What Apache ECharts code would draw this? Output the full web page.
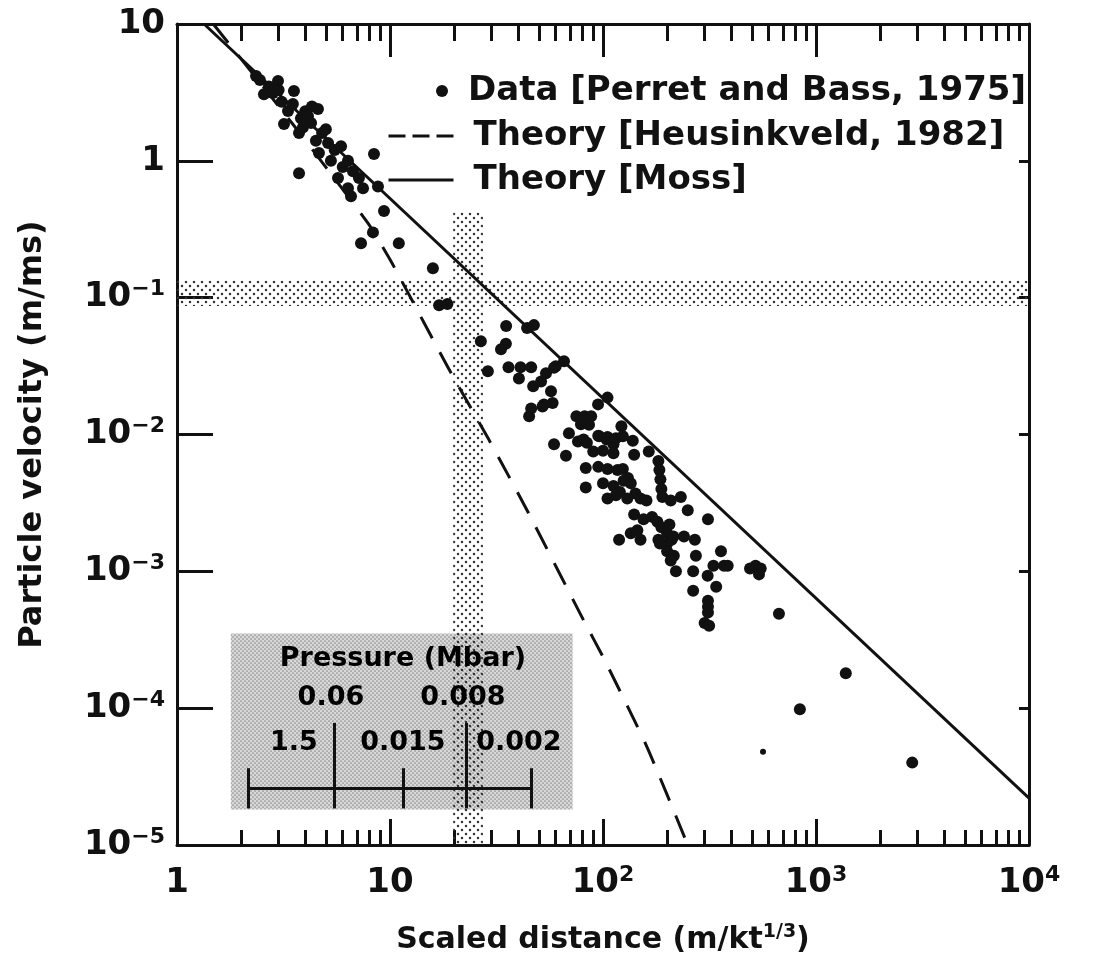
<!DOCTYPE html>
<html><head><meta charset="utf-8">
<script src="https://cdn.jsdelivr.net/npm/echarts@6/dist/echarts.min.js"></script>
<style>html,body{margin:0;padding:0;background:#fff}#c{width:1102px;height:979px}</style>
</head><body><div id="c"></div>
<script>
const FONT = '"DejaVu Sans", "Liberation Sans", sans-serif';
const INK = '#111';

// ---- axes ----
const xTicks = [1, 10, 100, 1000, 10000];
const xTickLabels = ['1', '10', '10^2', '10^3', '10^4'];
const xMinorTicks = [2,3,4,5,6,7,8,9,20,30,40,50,60,70,80,90,200,300,400,500,600,700,800,900,2000,3000,4000,5000,6000,7000,8000,9000];
const yTicks = [1e-5, 1e-4, 1e-3, 1e-2, 1e-1, 1, 10];
const yTickLabels = ['10^\u22125', '10^\u22124', '10^\u22123', '10^\u22122', '10^\u22121', '1', '10'];

// ---- data [scaled distance, particle velocity] ----
const dataNear = [[2.35,4.17],[2.45,3.9],[2.56,3.07],[2.7,3.5],[2.82,3.13],[2.98,3.83],[3.0,3.3],[3.1,2.7],[3.18,1.86],[3.32,2.31],[3.5,2.6],[3.54,3.24],[3.74,1.60],[3.74,0.81],[3.82,2.05],[3.9,1.75],[4.0,2.3],[4.12,2.12],[4.26,1.89],[4.3,2.5],[4.49,1.40],[4.59,2.39],[4.64,1.14],[4.8,1.6],[5.0,1.7],[5.12,1.35],[5.28,1.0],[5.5,1.2],[5.70,0.75],[5.89,1.28],[6.0,0.9],[6.35,1.0],[6.35,0.63],[6.56,0.55],[6.70,0.84],[7.15,0.75],[7.47,0.63],[8.41,1.12],[8.78,0.65],[9.37,0.43],[7.31,0.25],[8.32,0.30],[11.0,0.25]];
const dataMid = [[15.9,0.164],[17.0,0.088],[18.6,0.090],[26.7,0.048],[28.8,0.029],[33.2,0.042],[35,0.046],[35.1,0.062],[36,0.031],[40.3,0.0257],[41,0.031],[44,0.060],[46,0.031],[47.4,0.063],[47,0.0225],[51.2,0.0244],[54,0.028],[57,0.0207],[60,0.0315],[58.9,0.0307],[65.6,0.0343],[45,0.0136],[46,0.0155],[52,0.016],[52.8,0.0166],[58,0.017],[58.9,0.0085],[67,0.0070],[69.2,0.0102]];
const dataFar = [[75,0.0136],[82,0.0136],[88,0.0136],[80,0.0125],[86,0.0118],[78.8,0.0119],[76.3,0.0089],[81,0.0092],[84,0.0087],[94.8,0.0166],[105,0.0186],[95,0.0098],[104,0.0092],[112,0.0085],[96,0.0097],[105,0.0096],[115,0.0094],[124,0.0097],[122,0.0115],[138,0.0090],[90,0.0075],[100,0.0076],[112,0.0073],[140,0.0071],[164,0.0075],[83,0.0057],[95,0.0058],[105,0.0056],[117,0.0055],[124,0.0056],[131,0.0048],[182,0.0064],[184,0.0055],[186,0.0047],[188,0.0040],[190,0.0035],[83,0.0041],[100,0.0044],[112,0.0042],[120,0.0038],[125,0.0046],[135,0.0044],[142,0.0037],[150,0.0034],[130,0.0034],[115,0.0036],[160,0.0033],[105,0.0034],[208,0.0033],[232,0.0035],[250,0.0028],[140,0.0026],[155,0.0024],[170,0.0025],[180,0.0023],[205,0.0022],[188,0.0021],[200,0.0019],[210,0.0017],[119,0.0017],[135,0.0019],[145,0.0020],[150,0.0017],[182,0.0017],[200,0.0016],[214,0.0018],[240,0.0018],[270,0.0017],[311,0.0024],[273,0.0013],[358,0.0014],[370,0.0011],[330,0.0011],[385,0.0011],[490,0.00105],[520,0.0011],[550,0.00105],[540,0.00095],[185,0.0016],[200,0.0014],[215,0.0013],[208,0.0012],[220,0.0010],[265,0.0010],[310,0.00093],[265,0.00072],[340,0.00077],[311,0.00061],[311,0.00055],[311,0.00050],[300,0.00042],[315,0.00040],[670,0.00049],[1380,0.00018],[840,0.000098],[2830,0.00004]];
const dataFaint = [[564,0.000048]];

const mossLine = [[1.34,10],[10000,2.2e-5]];
const heusinkveldLine = [[1.48,10],[3.5,1.85],[7.88,0.35],[10,0.19],[12.5,0.10],[18.7,0.031],[29.2,0.0091],[44.5,0.0027],[81,4.4e-4],[101,2.3e-4],[160,5.3e-5],[250,1e-5]];

// ---- shaded bands and inset ----
const velocityBand = [0.087, 0.133];
const distanceBand = [19.8, 27.3];
const distanceBandTop = 0.42;
const insetBox = [[1.79,1.82e-5],[72,3.52e-4]];
const insetTexts = [[11.5,2.27e-4,'Pressure (Mbar)'],[5.28,1.18e-4,'0.06'],[22,1.18e-4,'0.008'],[3.54,5.55e-5,'1.5'],[11.5,5.55e-5,'0.015'],[40.3,5.55e-5,'0.002']];
const scaleBarY = 2.6e-5;
const scaleBarX = [2.15, 45.9];
const scaleSeparators = [5.46, 22.7];
const scaleSeparatorY = [1.85e-5, 7.8e-5];
const scaleTicks = [2.15, 11.5, 45.9];
const scaleTickY = [1.85e-5, 3.64e-5];

function pattern(size, bg, color, r, pts) {
  const c = document.createElement('canvas'); c.width = size; c.height = size;
  const g = c.getContext('2d');
  if (bg) { g.fillStyle = bg; g.fillRect(0, 0, size, size); }
  g.fillStyle = color;
  pts.forEach(([x, y]) => { g.beginPath(); g.arc(x, y, r, 0, Math.PI * 2); g.fill(); });
  return { image: c, repeat: 'repeat' };
}
const bandFill = pattern(8, null, '#333', 1.25, [[2,2],[6,6]]);
const insetFill = pattern(4, '#d8d8d8', '#8c8c8c', 0.85, [[1,1],[3,3]]);

function richLabel(s) {
  const i = s.indexOf('^');
  return i < 0 ? '{b|' + s + '}' : '{b|' + s.slice(0, i) + '}{s|' + s.slice(i + 1) + '}';
}
function tickFormatter(ticks, labels) {
  return v => {
    const k = ticks.findIndex(t => Math.abs(Math.log10(t) - Math.log10(v)) < 1e-6);
    return k < 0 ? '' : richLabel(labels[k]);
  };
}
const tickRich = {
  b: { fontFamily: FONT, fontSize: 34, fontWeight: 'bold', color: INK, lineHeight: 38 },
  s: { fontFamily: FONT, fontSize: 22, fontWeight: 'bold', color: INK, lineHeight: 22, verticalAlign: 'top' }
};
const lineSt = { color: INK, width: 3 };
const xBase = { type: 'log', logBase: 10, min: 1, max: 10000, splitLine: { show: false }, minorTick: { show: false }, silent: true };
const yBase = { type: 'log', logBase: 10, min: 1e-5, max: 10, splitLine: { show: false }, minorTick: { show: false }, silent: true };

const scaleLines = [
  [{ coord: [scaleBarX[0], scaleBarY] }, { coord: [scaleBarX[1], scaleBarY] }],
  ...scaleSeparators.map(x => [{ coord: [x, scaleSeparatorY[0]] }, { coord: [x, scaleSeparatorY[1]] }]),
  ...scaleTicks.map(x => [{ coord: [x, scaleTickY[0]] }, { coord: [x, scaleTickY[1]] }])
];

const legendText = { fontFamily: FONT, fontSize: 34, fontWeight: 'bold', color: INK, padding: [0, 0, 0, 15] };
const noSymbol = { color: 'rgba(0,0,0,0)', borderWidth: 0, opacity: 0 };

const option = {
  animation: false,
  backgroundColor: '#fff',
  grid: { left: 177, right: 73, top: 24, bottom: 134, containLabel: false },
  legend: [
    { data: ['Data [Perret and Bass, 1975]'], left: 431, top: 69, orient: 'vertical', icon: 'circle', itemWidth: 12, itemHeight: 12, selectedMode: false,
      itemStyle: { color: INK, opacity: 1 }, textStyle: legendText },
    { data: ['Theory [Heusinkveld, 1982]'], left: 382, top: 114, orient: 'vertical', itemWidth: 65, itemHeight: 14, selectedMode: false,
      itemStyle: noSymbol, lineStyle: { type: [17, 7], width: 3, color: INK, opacity: 1 }, textStyle: legendText },
    { data: ['Theory [Moss]'], left: 382, top: 158, orient: 'vertical', itemWidth: 65, itemHeight: 14, selectedMode: false,
      itemStyle: noSymbol, lineStyle: { width: 3, color: INK, opacity: 1 }, textStyle: legendText }
  ],
  xAxis: [
    { ...xBase, position: 'bottom',
      axisLine: { show: true, onZero: false, lineStyle: lineSt },
      axisTick: { show: true, inside: true, length: 26, customValues: xTicks, lineStyle: lineSt },
      axisLabel: { show: true, customValues: xTicks, formatter: tickFormatter(xTicks, xTickLabels), rich: tickRich, margin: 19 },
      name: 'Scaled distance (m/kt{s|1/3})', nameLocation: 'middle', nameGap: 78,
      nameTextStyle: { fontFamily: FONT, fontSize: 30, fontWeight: 'bold', color: INK, lineHeight: 34,
        rich: { s: { fontFamily: FONT, fontSize: 19, fontWeight: 'bold', color: INK, lineHeight: 19, verticalAlign: 'top' } } } },
    { ...xBase, position: 'bottom', axisLine: { show: false, onZero: false },
      axisTick: { show: true, inside: true, length: 15, customValues: xMinorTicks, lineStyle: lineSt }, axisLabel: { show: false } },
    { ...xBase, position: 'top', axisLine: { show: true, onZero: false, lineStyle: lineSt },
      axisTick: { show: true, inside: true, length: 33, customValues: xTicks, lineStyle: lineSt }, axisLabel: { show: false } },
    { ...xBase, position: 'top', axisLine: { show: false, onZero: false },
      axisTick: { show: true, inside: true, length: 17, customValues: xMinorTicks, lineStyle: lineSt }, axisLabel: { show: false } }
  ],
  yAxis: [
    { ...yBase, position: 'left',
      axisLine: { show: true, onZero: false, lineStyle: lineSt },
      axisTick: { show: true, inside: true, length: 36, customValues: yTicks, lineStyle: lineSt },
      axisLabel: { show: true, customValues: yTicks, formatter: tickFormatter(yTicks, yTickLabels), rich: tickRich, margin: 12 },
      name: 'Particle velocity (m/ms)', nameLocation: 'middle', nameGap: 128,
      nameTextStyle: { fontFamily: FONT, fontSize: 32, fontWeight: 'bold', color: INK } },
    { ...yBase, position: 'right',
      axisLine: { show: true, onZero: false, lineStyle: lineSt },
      axisTick: { show: true, inside: true, length: 10, customValues: yTicks, lineStyle: lineSt },
      axisLabel: { show: false } }
  ],
  series: [
    { name: 'inset', type: 'line', data: [], z: 1, silent: true,
      markArea: { silent: true, itemStyle: { color: insetFill }, label: { show: false },
        data: [[{ coord: insetBox[0] }, { coord: insetBox[1] }]] } },
    { name: 'bands', type: 'line', data: [], z: 2, silent: true,
      markArea: { silent: true, itemStyle: { color: bandFill }, label: { show: false },
        data: [
          [{ coord: [xTicks[0], velocityBand[0]] }, { coord: [xTicks[xTicks.length - 1], velocityBand[1]] }],
          [{ coord: [distanceBand[0], yTicks[0]] }, { coord: [distanceBand[1], distanceBandTop] }]
        ] } },
    { name: 'insetText', type: 'scatter', z: 3, silent: true, symbolSize: 1,
      itemStyle: { color: 'rgba(0,0,0,0)', opacity: 1 },
      data: insetTexts,
      label: { show: true, position: 'inside', formatter: p => p.data[2], fontFamily: FONT, fontSize: 27, fontWeight: 'bold', color: '#000', opacity: 1 },
      markLine: { silent: true, symbol: ['none', 'none'], label: { show: false },
        lineStyle: { type: 'solid', color: INK, width: 3, opacity: 1 }, data: scaleLines } },
    { name: 'Theory [Heusinkveld, 1982]', type: 'line', z: 4, silent: true, symbol: 'none', showSymbol: false, smooth: 0.2,
      data: heusinkveldLine, lineStyle: { color: INK, width: 3, type: [24, 16] }, itemStyle: { color: INK } },
    { name: 'Theory [Moss]', type: 'line', z: 4, silent: true, symbol: 'none', showSymbol: false,
      data: mossLine, lineStyle: { color: INK, width: 3 }, itemStyle: { color: INK } },
    { name: 'Data [Perret and Bass, 1975]', type: 'scatter', z: 5, silent: true, symbol: 'circle', symbolSize: 12,
      itemStyle: { color: INK, opacity: 1 },
      data: dataNear.concat(dataMid, dataFar).concat(dataFaint.map(p => ({ value: p, symbolSize: 6 }))) }
  ]
};
const chart = echarts.init(document.getElementById('c'), null, { renderer: 'canvas', width: 1102, height: 979 });
chart.setOption(option);
</script>
</body></html>
